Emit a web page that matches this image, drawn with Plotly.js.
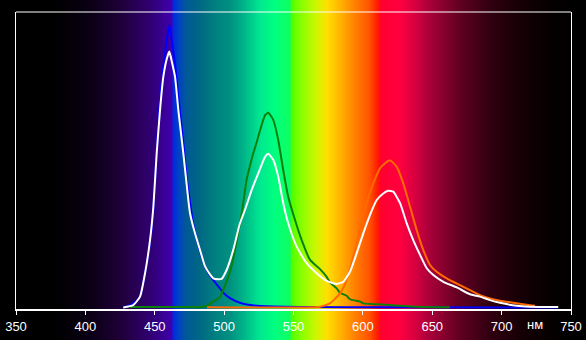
<!DOCTYPE html>
<html>
<head>
<meta charset="utf-8">
<script src="https://cdn.plot.ly/plotly-3.0.1.min.js"></script>
<style>
  html, body { margin: 0; padding: 0; background: #000; }
  #chart {
    width: 586px; height: 340px;
    background: linear-gradient(to right,
      #000000 0px, #000000 55px, #0a0014 90px, #1e0038 120px, #300070 150px,
      #3a009a 165px, #4000b0 172px, #0028e0 173px, #0040c8 178px, #005898 186px,
      #006884 200px, #008080 215px, #009080 230px, #00b88a 245px, #00e890 260px,
      #00ff80 275px, #10ff60 290px, #50ff00 292px, #80ff00 300px, #c8f800 315px,
      #ffe000 327px, #ffb400 340px, #ff8000 355px, #ff5000 370px, #ff1800 378px,
      #ff0030 381px, #ff0040 400px, #e00040 412px, #a8003a 430px, #600020 460px,
      #300010 490px, #160005 520px, #060000 550px, #000000 575px, #000000 586px);
  }
</style>
</head>
<body>
<div id="chart"></div>
<script>
// wavelengths (nm) and relative intensities
const blueX  = [427.1, 432.2, 434.5, 439.4, 443.0, 446.6, 449.0, 451.4, 453.8, 456.2, 458.6, 460.5, 462.4, 464.6, 467.0, 470.6, 473.0, 475.0, 477.8, 482.6, 487.4, 492.2, 497.0, 499.4, 504.2, 511.4, 516.3, 526.0, 554.7, 626.8, 740.6];
const blueY  = [0.000, 0.008, 0.015, 0.036, 0.118, 0.218, 0.330, 0.533, 0.702, 0.815, 0.900, 0.956, 0.900, 0.826, 0.713, 0.556, 0.440, 0.370, 0.280, 0.190, 0.127, 0.093, 0.065, 0.050, 0.032, 0.016, 0.010, 0.005, 0.002, 0.001, 0.000];

const greenX = [432.2, 482.6, 487.4, 492.2, 497.0, 499.4, 504.2, 509.1, 512.7, 516.3, 518.6, 521.0, 523.5, 525.9, 529.5, 531.8, 535.4, 539.0, 542.6, 546.2, 551.1, 555.9, 561.9, 569.1, 573.9, 576.3, 581.1, 583.5, 588.3, 590.7, 597.9, 600.3, 610.0, 617.2, 638.8, 662.8];
const greenY = [0.002, 0.002, 0.005, 0.020, 0.035, 0.060, 0.120, 0.225, 0.320, 0.435, 0.480, 0.522, 0.560, 0.600, 0.651, 0.659, 0.635, 0.567, 0.465, 0.375, 0.296, 0.228, 0.161, 0.130, 0.104, 0.085, 0.065, 0.050, 0.040, 0.028, 0.020, 0.014, 0.011, 0.009, 0.003, 0.001];

const redX   = [487.7, 569.1, 576.3, 583.5, 588.3, 593.1, 597.9, 602.7, 607.5, 612.3, 617.2, 620.0, 624.4, 629.1, 634.0, 638.8, 643.5, 648.4, 653.2, 660.4, 670.0, 677.2, 684.4, 691.6, 698.8, 708.4, 720.4, 724.0];
const redY   = [0.001, 0.003, 0.014, 0.048, 0.093, 0.172, 0.262, 0.353, 0.420, 0.471, 0.493, 0.497, 0.476, 0.420, 0.341, 0.262, 0.195, 0.144, 0.121, 0.099, 0.076, 0.059, 0.042, 0.031, 0.023, 0.016, 0.008, 0.006];

const whiteX = [427.3, 434.5, 439.4, 443.0, 446.6, 449.0, 451.4, 453.8, 456.2, 458.6, 460.5, 462.4, 464.6, 467.0, 470.6, 474.2, 475.4, 479.0, 482.6, 486.2, 489.8, 492.2, 495.6, 498.2, 501.8, 506.6, 511.4, 515.0, 519.9, 524.6, 529.5, 531.8, 535.4, 539.0, 542.6, 546.2, 552.3, 559.5, 566.7, 573.9, 581.1, 585.9, 590.7, 595.5, 600.3, 605.1, 610.0, 614.7, 618.3, 621.9, 626.8, 631.6, 636.3, 641.2, 646.0, 650.8, 658.0, 667.6, 677.2, 684.4, 691.6, 698.8, 710.9, 720.4, 740.8];
const whiteY = [0.000, 0.008, 0.037, 0.116, 0.228, 0.341, 0.522, 0.668, 0.781, 0.840, 0.866, 0.830, 0.781, 0.668, 0.522, 0.364, 0.320, 0.251, 0.195, 0.140, 0.112, 0.099, 0.096, 0.097, 0.127, 0.195, 0.285, 0.330, 0.398, 0.454, 0.510, 0.520, 0.500, 0.443, 0.353, 0.285, 0.206, 0.150, 0.116, 0.090, 0.080, 0.087, 0.121, 0.183, 0.251, 0.313, 0.364, 0.386, 0.395, 0.392, 0.353, 0.285, 0.228, 0.178, 0.133, 0.110, 0.087, 0.068, 0.045, 0.037, 0.025, 0.016, 0.006, 0.003, 0.002];

const tickVals = [350, 400, 450, 500, 550, 600, 650, 700, 750];
const unitLabel = 'нм';

function line(x, y, color) {
  return { x: x, y: y, type: 'scatter', mode: 'lines',
           line: { color: color, width: 2, shape: 'spline', smoothing: 0.5 },
           hoverinfo: 'skip', showlegend: false };
}

const data = [
  line(blueX, blueY, '#0000ff'),
  line(greenX, greenY, '#0a800a'),
  line(redX, redY, '#ff6a00'),
  line(whiteX, whiteY, '#ffffff')
];

const layout = {
  width: 586, height: 340,
  margin: { l: 16, r: 15, t: 12, b: 31, pad: 0 },
  paper_bgcolor: 'rgba(0,0,0,0)',
  plot_bgcolor: 'rgba(0,0,0,0)',
  font: { family: 'Liberation Sans, Arial, sans-serif', size: 13, color: '#ffffff' },
  xaxis: {
    range: [350, 750], tickvals: tickVals, ticktext: tickVals.map(String),
    ticks: 'outside', ticklen: 4, tickwidth: 1, tickcolor: '#ffffff',
    showline: true, linecolor: '#ffffff', linewidth: 2,
    showgrid: false, zeroline: false, fixedrange: true,
    tickfont: { size: 13, color: '#ffffff' }
  },
  yaxis: {
    range: [-0.005, 1.0], showticklabels: false, ticks: '',
    showline: true, linecolor: '#ffffff', linewidth: 1, mirror: true,
    showgrid: false, zeroline: false, fixedrange: true
  },
  shapes: [
    { type: 'line', xref: 'paper', yref: 'paper', x0: 0, x1: 1, y0: 1, y1: 1,
      line: { color: '#ffffff', width: 1 } }
  ],
  annotations: [
    { text: unitLabel, xref: 'x', yref: 'paper', x: 724, y: -0.02,
      xanchor: 'center', yanchor: 'top', showarrow: false,
      font: { size: 13, color: '#ffffff' } }
  ]
};

Plotly.newPlot('chart', data, layout, { displayModeBar: false, staticPlot: true });
</script>
</body>
</html>
